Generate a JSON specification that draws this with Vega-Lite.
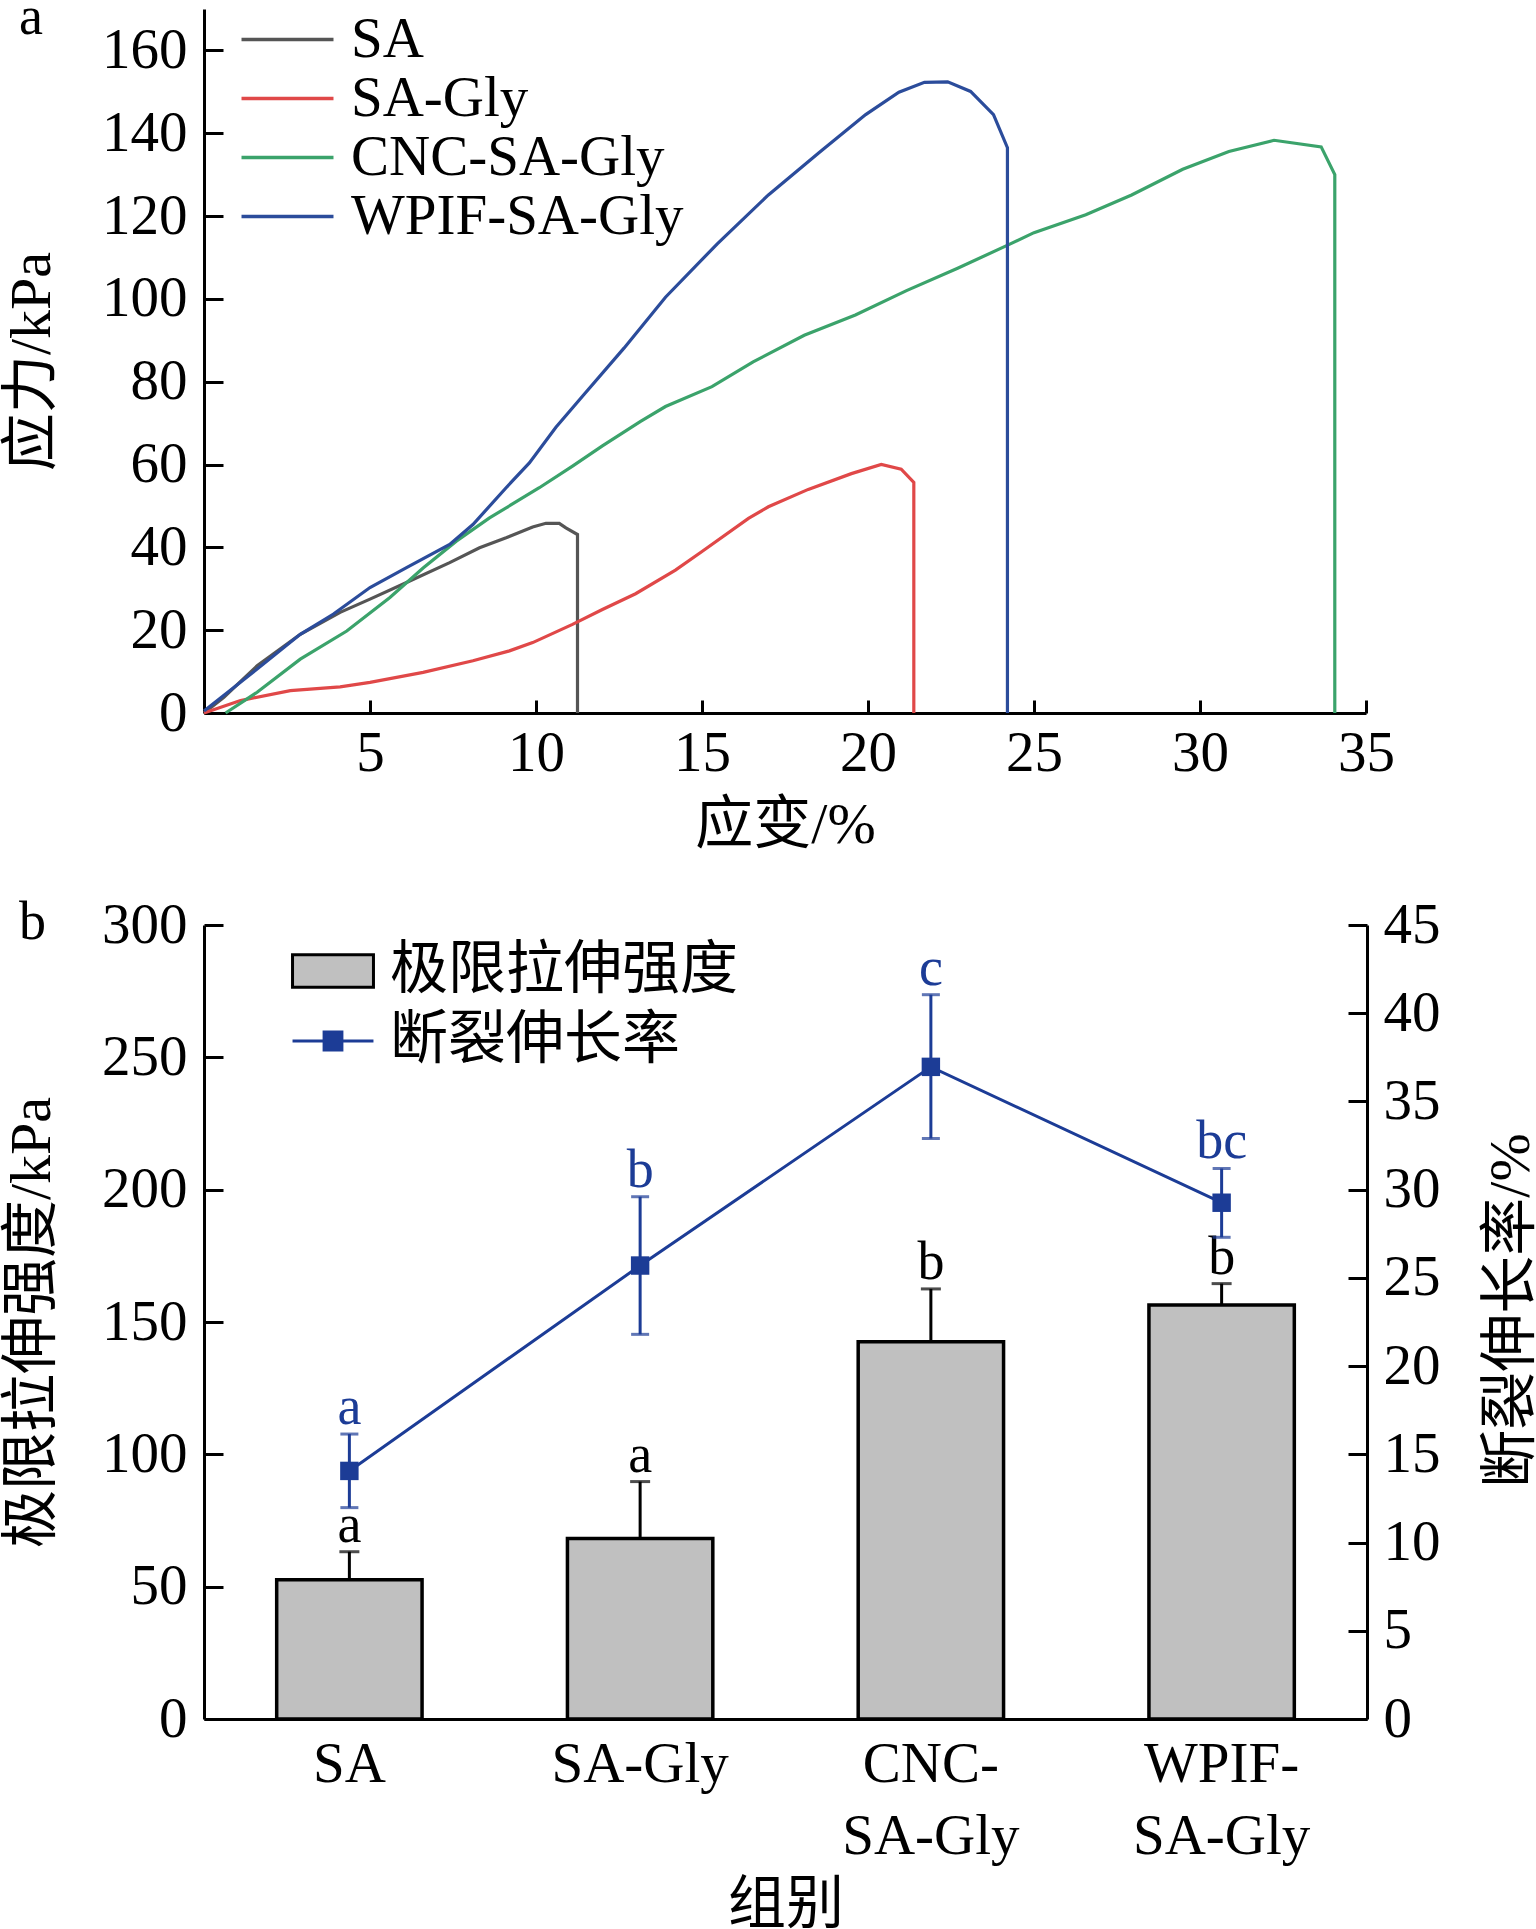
{
  "$schema": "https://vega.github.io/schema/vega-lite/v6.json",
  "background": "white",
  "padding": {"left": 3, "top": -9, "right": 0, "bottom": 0},
  "spacing": 212,
  "bounds": "flush",
  "resolve": {"scale": {"color": "independent", "fill": "independent"}, "legend": {"color": "independent", "fill": "independent"}},
  "config": {
    "view": {"stroke": null},
    "axis": {
      "grid": false,
      "domainColor": "black", "domainWidth": 3,
      "tickColor": "black", "tickWidth": 3,
      "labelFont": "Liberation Serif", "labelFontSize": 57, "labelColor": "black", "labelFlush": false,
      "titleFont": "Liberation Serif, Noto Sans CJK SC", "titleFontSize": 58,
      "titleFontWeight": "normal", "titleColor": "black"
    },
    "legend": {"labelColor": "black", "title": null, "labelLimit": 800},
    "title": {"font": "Liberation Serif", "fontSize": 54, "fontWeight": "normal", "color": "black", "anchor": "start", "frame": "group", "offset": 0}
  },
  "vconcat": [
    {
      "width": 1162,
      "height": 704,
      "title": {"text": "a", "dx": -185, "dy": 83, "baseline": "alphabetic"},
      "data": {
        "values": [
          {"series": "SA", "i": 0, "strain": 0, "stress": 0},
          {"series": "SA", "i": 1, "strain": 0.6, "stress": 3.8},
          {"series": "SA", "i": 2, "strain": 1.6, "stress": 11.4},
          {"series": "SA", "i": 3, "strain": 2.9, "stress": 19},
          {"series": "SA", "i": 4, "strain": 4.1, "stress": 24.3},
          {"series": "SA", "i": 5, "strain": 5.0, "stress": 27.5},
          {"series": "SA", "i": 6, "strain": 6.1, "stress": 31.5},
          {"series": "SA", "i": 7, "strain": 7.4, "stress": 36.3},
          {"series": "SA", "i": 8, "strain": 8.3, "stress": 39.9},
          {"series": "SA", "i": 9, "strain": 9.1, "stress": 42.3},
          {"series": "SA", "i": 10, "strain": 9.9, "stress": 44.9},
          {"series": "SA", "i": 11, "strain": 10.3, "stress": 45.8},
          {"series": "SA", "i": 12, "strain": 10.7, "stress": 45.8},
          {"series": "SA", "i": 13, "strain": 10.9, "stress": 44.7},
          {"series": "SA", "i": 14, "strain": 11.25, "stress": 43.1},
          {"series": "SA", "i": 15, "strain": 11.25, "stress": 0},
          {"series": "SA-Gly", "i": 0, "strain": 0, "stress": 0},
          {"series": "SA-Gly", "i": 1, "strain": 1.1, "stress": 3},
          {"series": "SA-Gly", "i": 2, "strain": 2.6, "stress": 5.4},
          {"series": "SA-Gly", "i": 3, "strain": 4.1, "stress": 6.3},
          {"series": "SA-Gly", "i": 4, "strain": 5.0, "stress": 7.4},
          {"series": "SA-Gly", "i": 5, "strain": 6.6, "stress": 9.8},
          {"series": "SA-Gly", "i": 6, "strain": 8.1, "stress": 12.6},
          {"series": "SA-Gly", "i": 7, "strain": 9.2, "stress": 15},
          {"series": "SA-Gly", "i": 8, "strain": 9.9, "stress": 17},
          {"series": "SA-Gly", "i": 9, "strain": 11.1, "stress": 21.4},
          {"series": "SA-Gly", "i": 10, "strain": 12, "stress": 25},
          {"series": "SA-Gly", "i": 11, "strain": 13, "stress": 28.8},
          {"series": "SA-Gly", "i": 12, "strain": 14.2, "stress": 34.5},
          {"series": "SA-Gly", "i": 13, "strain": 15, "stress": 39},
          {"series": "SA-Gly", "i": 14, "strain": 16.4, "stress": 47},
          {"series": "SA-Gly", "i": 15, "strain": 17, "stress": 49.8},
          {"series": "SA-Gly", "i": 16, "strain": 18.2, "stress": 54},
          {"series": "SA-Gly", "i": 17, "strain": 19.5, "stress": 57.8},
          {"series": "SA-Gly", "i": 18, "strain": 20.4, "stress": 60},
          {"series": "SA-Gly", "i": 19, "strain": 21.0, "stress": 58.9},
          {"series": "SA-Gly", "i": 20, "strain": 21.38, "stress": 55.7},
          {"series": "SA-Gly", "i": 21, "strain": 21.38, "stress": 0},
          {"series": "CNC-SA-Gly", "i": 0, "strain": 0.65, "stress": 0},
          {"series": "CNC-SA-Gly", "i": 1, "strain": 1.6, "stress": 5},
          {"series": "CNC-SA-Gly", "i": 2, "strain": 2.9, "stress": 13},
          {"series": "CNC-SA-Gly", "i": 3, "strain": 4.3, "stress": 19.8},
          {"series": "CNC-SA-Gly", "i": 4, "strain": 5.6, "stress": 27.9},
          {"series": "CNC-SA-Gly", "i": 5, "strain": 6.6, "stress": 35},
          {"series": "CNC-SA-Gly", "i": 6, "strain": 7.6, "stress": 41.5},
          {"series": "CNC-SA-Gly", "i": 7, "strain": 8.6, "stress": 47.1},
          {"series": "CNC-SA-Gly", "i": 8, "strain": 10.1, "stress": 54.4},
          {"series": "CNC-SA-Gly", "i": 9, "strain": 11.1, "stress": 59.6},
          {"series": "CNC-SA-Gly", "i": 10, "strain": 12, "stress": 64.5},
          {"series": "CNC-SA-Gly", "i": 11, "strain": 13.15, "stress": 70.4},
          {"series": "CNC-SA-Gly", "i": 12, "strain": 13.9, "stress": 74},
          {"series": "CNC-SA-Gly", "i": 13, "strain": 15.3, "stress": 78.8},
          {"series": "CNC-SA-Gly", "i": 14, "strain": 16.54, "stress": 84.8},
          {"series": "CNC-SA-Gly", "i": 15, "strain": 18.08, "stress": 91.2},
          {"series": "CNC-SA-Gly", "i": 16, "strain": 19.62, "stress": 96.1},
          {"series": "CNC-SA-Gly", "i": 17, "strain": 21.16, "stress": 102},
          {"series": "CNC-SA-Gly", "i": 18, "strain": 22.7, "stress": 107.4},
          {"series": "CNC-SA-Gly", "i": 19, "strain": 24.24, "stress": 113.1},
          {"series": "CNC-SA-Gly", "i": 20, "strain": 25, "stress": 116},
          {"series": "CNC-SA-Gly", "i": 21, "strain": 26.56, "stress": 120.3},
          {"series": "CNC-SA-Gly", "i": 22, "strain": 27.94, "stress": 125.1},
          {"series": "CNC-SA-Gly", "i": 23, "strain": 29.48, "stress": 131.3},
          {"series": "CNC-SA-Gly", "i": 24, "strain": 30.87, "stress": 135.6},
          {"series": "CNC-SA-Gly", "i": 25, "strain": 32.23, "stress": 138.3},
          {"series": "CNC-SA-Gly", "i": 26, "strain": 33.65, "stress": 136.7},
          {"series": "CNC-SA-Gly", "i": 27, "strain": 34.06, "stress": 130},
          {"series": "CNC-SA-Gly", "i": 28, "strain": 34.06, "stress": 0},
          {"series": "WPIF-SA-Gly", "i": 0, "strain": 0, "stress": 0.5},
          {"series": "WPIF-SA-Gly", "i": 1, "strain": 1.6, "stress": 10.6},
          {"series": "WPIF-SA-Gly", "i": 2, "strain": 2.9, "stress": 19},
          {"series": "WPIF-SA-Gly", "i": 3, "strain": 3.9, "stress": 23.9},
          {"series": "WPIF-SA-Gly", "i": 4, "strain": 5, "stress": 30.3},
          {"series": "WPIF-SA-Gly", "i": 5, "strain": 6.1, "stress": 35.1},
          {"series": "WPIF-SA-Gly", "i": 6, "strain": 7.4, "stress": 40.7},
          {"series": "WPIF-SA-Gly", "i": 7, "strain": 8.1, "stress": 45.5},
          {"series": "WPIF-SA-Gly", "i": 8, "strain": 9.1, "stress": 54.4},
          {"series": "WPIF-SA-Gly", "i": 9, "strain": 9.8, "stress": 60.4},
          {"series": "WPIF-SA-Gly", "i": 10, "strain": 10.6, "stress": 69},
          {"series": "WPIF-SA-Gly", "i": 11, "strain": 11.4, "stress": 76.5},
          {"series": "WPIF-SA-Gly", "i": 12, "strain": 12.65, "stress": 88.1},
          {"series": "WPIF-SA-Gly", "i": 13, "strain": 13.9, "stress": 100.4},
          {"series": "WPIF-SA-Gly", "i": 14, "strain": 15.46, "stress": 113.3},
          {"series": "WPIF-SA-Gly", "i": 15, "strain": 17, "stress": 125.1},
          {"series": "WPIF-SA-Gly", "i": 16, "strain": 18.54, "stress": 135.4},
          {"series": "WPIF-SA-Gly", "i": 17, "strain": 19.93, "stress": 144.5},
          {"series": "WPIF-SA-Gly", "i": 18, "strain": 20.93, "stress": 149.9},
          {"series": "WPIF-SA-Gly", "i": 19, "strain": 21.7, "stress": 152.3},
          {"series": "WPIF-SA-Gly", "i": 20, "strain": 22.4, "stress": 152.4},
          {"series": "WPIF-SA-Gly", "i": 21, "strain": 23.09, "stress": 150.1},
          {"series": "WPIF-SA-Gly", "i": 22, "strain": 23.78, "stress": 144.5},
          {"series": "WPIF-SA-Gly", "i": 23, "strain": 24.2, "stress": 136.5},
          {"series": "WPIF-SA-Gly", "i": 24, "strain": 24.2, "stress": 0}
        ]
      },
      "mark": {"type": "line", "strokeWidth": 3.2},
      "encoding": {
        "x": {
          "field": "strain", "type": "quantitative",
          "scale": {"domain": [0, 35], "nice": false},
          "axis": {"values": [5, 10, 15, 20, 25, 30, 35], "title": "应变/%", "tickSize": -13, "labelPadding": 25, "titleY": 112, "titleBaseline": "middle"}
        },
        "y": {
          "field": "stress", "type": "quantitative",
          "scale": {"domain": [0, 170], "nice": false},
          "axis": {"values": [0, 20, 40, 60, 80, 100, 120, 140, 160], "title": "应力/kPa", "tickSize": -19, "labelPadding": 36, "titleX": -172, "titleBaseline": "middle"}
        },
        "color": {
          "field": "series", "type": "nominal",
          "scale": {"domain": ["SA", "SA-Gly", "CNC-SA-Gly", "WPIF-SA-Gly"], "range": ["#555555", "#e04848", "#3ba36b", "#2b4c9b"]},
          "legend": {
            "orient": "none", "legendX": 55, "legendY": 2,
            "symbolType": "M-3,0H3", "symbolSize": 940, "symbolStrokeWidth": 3.5,
            "labelOffset": 35, "labelFont": "Liberation Serif", "labelFontSize": 57, "rowPadding": 1
          }
        },
        "order": {"field": "i"}
      }
    },
    {
      "width": 1163,
      "height": 794,
      "title": {"text": "b", "dx": -185, "dy": 101, "baseline": "alphabetic"},
      "data": {
        "values": [
          {"group": "SA", "idx": 1, "uts": 52.6, "uts_hi": 63.2, "el": 14.06, "el_lo": 11.98, "el_hi": 16.15, "lab_uts": "a", "lab_el": "a"},
          {"group": "SA-Gly", "idx": 2, "uts": 68.2, "uts_hi": 89.7, "el": 25.7, "el_lo": 21.8, "el_hi": 29.6, "lab_uts": "a", "lab_el": "b"},
          {"group": "CNC-SA-Gly", "idx": 3, "uts": 142.5, "uts_hi": 162.5, "el": 36.96, "el_lo": 32.9, "el_hi": 41.05, "lab_uts": "b", "lab_el": "c"},
          {"group": "WPIF-SA-Gly", "idx": 4, "uts": 156.4, "uts_hi": 164.5, "el": 29.26, "el_lo": 27.3, "el_hi": 31.2, "lab_uts": "b", "lab_el": "bc"}
        ]
      },
      "encoding": {
        "x": {
          "field": "group", "type": "nominal",
          "scale": {"domain": ["SA", "SA-Gly", "CNC-SA-Gly", "WPIF-SA-Gly"], "paddingInner": 0.5, "paddingOuter": 0.25},
          "axis": {
            "title": "组别", "labelAngle": 0, "tickSize": -13, "labelPadding": 30, "labelLineHeight": 72,
            "labelExpr": "datum.value == 'CNC-SA-Gly' ? ['CNC-', 'SA-Gly'] : datum.value == 'WPIF-SA-Gly' ? ['WPIF-', 'SA-Gly'] : datum.value",
            "titleY": 186, "titleBaseline": "middle"
          }
        }
      },
      "layer": [
        {
          "layer": [
            {
              "mark": {"type": "bar", "stroke": "black", "strokeWidth": 3.5},
              "encoding": {
                "y": {
                  "field": "uts", "type": "quantitative", "title": "极限拉伸强度/kPa",
                  "scale": {"domain": [0, 300], "nice": false},
                  "axis": {"orient": "left", "values": [0, 50, 100, 150, 200, 250, 300], "tickSize": -19, "labelPadding": 36, "titleX": -172, "titleBaseline": "middle"}
                },
                "fill": {
                  "datum": "极限拉伸强度",
                  "scale": {"domain": ["极限拉伸强度", "断裂伸长率"], "range": ["#c0c0c0", "#1c3c96"]},
                  "legend": {
                    "orient": "none", "legendX": 100, "legendY": 17,
                    "symbolSize": 262, "symbolStrokeWidth": 3, "symbolOpacity": 1,
                    "symbolType": {"expr": "datum.value === '断裂伸长率' ? 'M-5,0H5M-1.1,-1.1H1.1V1.1H-1.1Z' : 'M-5,-2H5V2H-5Z'"},
                    "symbolStrokeColor": {"expr": "datum.value === '断裂伸长率' ? '#1c3c96' : '#000000'"},
                    "labelOffset": 28, "labelFont": "Noto Sans CJK SC", "labelFontSize": 58, "rowPadding": 12
                  }
                }
              }
            },
            {
              "mark": {"type": "rule", "color": "black", "strokeWidth": 3},
              "encoding": {
                "y": {"field": "uts", "type": "quantitative", "title": "极限拉伸强度/kPa"},
                "y2": {"field": "uts_hi"}
              }
            },
            {
              "mark": {"type": "tick", "color": "black", "thickness": 3, "size": 20},
              "encoding": {"y": {"field": "uts_hi", "type": "quantitative", "title": "极限拉伸强度/kPa"}}
            },
            {
              "mark": {"type": "text", "baseline": "alphabetic", "dy": -10, "font": "Liberation Serif", "fontSize": 54, "color": "black"},
              "encoding": {
                "y": {"field": "uts_hi", "type": "quantitative", "title": "极限拉伸强度/kPa"},
                "text": {"field": "lab_uts"}
              }
            }
          ]
        },
        {
          "layer": [
            {
              "mark": {"type": "line", "color": "#1c3c96", "strokeWidth": 3},
              "encoding": {
                "y": {
                  "field": "el", "type": "quantitative", "title": "断裂伸长率/%",
                  "scale": {"domain": [0, 45], "nice": false},
                  "axis": {"orient": "right", "values": [0, 5, 10, 15, 20, 25, 30, 35, 40, 45], "tickSize": -19, "labelPadding": 35, "titleX": 144, "titleY": 385, "titleAngle": 270, "titleBaseline": "middle"}
                },
                "order": {"field": "idx"}
              }
            },
            {
              "mark": {"type": "rule", "color": "#1c3c96", "strokeWidth": 3},
              "encoding": {
                "y": {"field": "el_lo", "type": "quantitative", "title": "断裂伸长率/%"},
                "y2": {"field": "el_hi"}
              }
            },
            {
              "mark": {"type": "tick", "color": "#1c3c96", "thickness": 3, "size": 18},
              "encoding": {"y": {"field": "el_lo", "type": "quantitative", "title": "断裂伸长率/%"}}
            },
            {
              "mark": {"type": "tick", "color": "#1c3c96", "thickness": 3, "size": 18},
              "encoding": {"y": {"field": "el_hi", "type": "quantitative", "title": "断裂伸长率/%"}}
            },
            {
              "mark": {"type": "point", "shape": "square", "filled": true, "size": 340, "opacity": 1},
              "encoding": {
                "y": {"field": "el", "type": "quantitative", "title": "断裂伸长率/%"},
                "fill": {"datum": "断裂伸长率"}
              }
            },
            {
              "mark": {"type": "text", "baseline": "alphabetic", "dy": -10, "font": "Liberation Serif", "fontSize": 54, "color": "#1c3c96"},
              "encoding": {
                "y": {"field": "el_hi", "type": "quantitative", "title": "断裂伸长率/%"},
                "text": {"field": "lab_el"}
              }
            }
          ]
        }
      ],
      "resolve": {"scale": {"y": "independent"}}
    }
  ]
}
